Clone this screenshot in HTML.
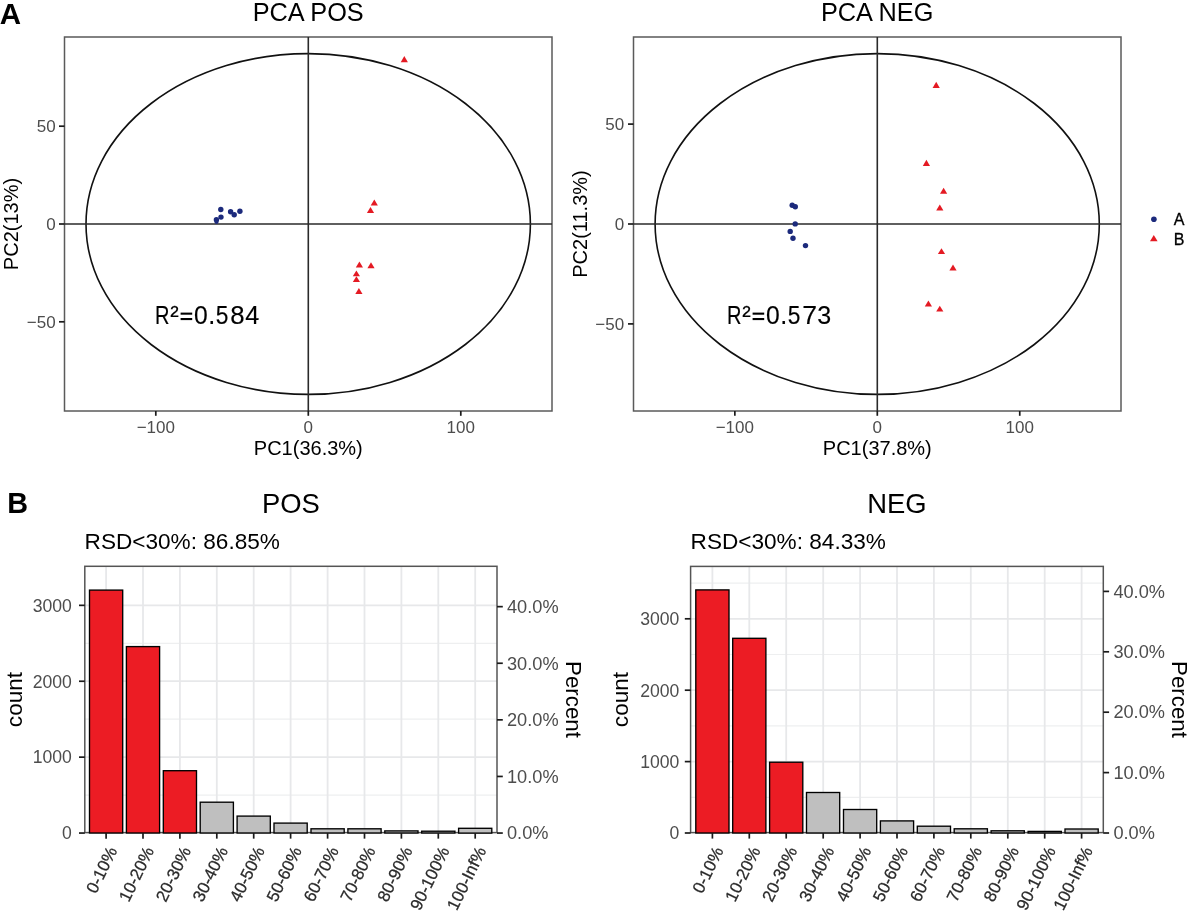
<!DOCTYPE html>
<html><head><meta charset="utf-8"><title>Figure</title>
<style>
html,body{margin:0;padding:0;background:#fff;}
body{width:1189px;height:915px;overflow:hidden;}
svg{display:block;filter:blur(0.3px);font-family:"Liberation Sans", sans-serif;}
</style></head>
<body>
<svg width="1189" height="915" viewBox="0 0 1189 915">
<rect x="0" y="0" width="1189" height="915" fill="#fff"/>
<text x="308.2" y="20.5" font-size="25.3" text-anchor="middle" fill="#000">PCA POS</text>
<rect x="64.5" y="37" width="487.5" height="374" fill="none" stroke="#5a5a5a" stroke-width="1.5"/>
<ellipse cx="308.2" cy="224" rx="222.2" ry="170.4" fill="none" stroke="#111" stroke-width="1.6"/>
<line x1="308.3" y1="37" x2="308.3" y2="411" stroke="#2a2a2a" stroke-width="1.6"/>
<line x1="64.5" y1="224" x2="552" y2="224" stroke="#2a2a2a" stroke-width="1.6"/>
<line x1="155.8" y1="411" x2="155.8" y2="415.8" stroke="#1a1a1a" stroke-width="1.7"/>
<text x="155.8" y="432.5" font-size="17" text-anchor="middle" fill="#4d4d4d">−100</text>
<line x1="308.3" y1="411" x2="308.3" y2="415.8" stroke="#1a1a1a" stroke-width="1.7"/>
<text x="308.3" y="432.5" font-size="17" text-anchor="middle" fill="#4d4d4d">0</text>
<line x1="460.8" y1="411" x2="460.8" y2="415.8" stroke="#1a1a1a" stroke-width="1.7"/>
<text x="460.8" y="432.5" font-size="17" text-anchor="middle" fill="#4d4d4d">100</text>
<line x1="59.0" y1="126.2" x2="64.5" y2="126.2" stroke="#1a1a1a" stroke-width="1.7"/>
<text x="55.6" y="132.3" font-size="17" text-anchor="end" fill="#4d4d4d">50</text>
<line x1="59.0" y1="224.0" x2="64.5" y2="224.0" stroke="#1a1a1a" stroke-width="1.7"/>
<text x="55.6" y="230.1" font-size="17" text-anchor="end" fill="#4d4d4d">0</text>
<line x1="59.0" y1="321.8" x2="64.5" y2="321.8" stroke="#1a1a1a" stroke-width="1.7"/>
<text x="55.6" y="327.9" font-size="17" text-anchor="end" fill="#4d4d4d">−50</text>
<text x="308.3" y="455" font-size="20" text-anchor="middle" fill="#000">PC1(36.3%)</text>
<text x="18.3" y="224" font-size="20" text-anchor="middle" fill="#000" transform="rotate(-90 18.3 224)">PC2(13%)</text>
<text x="0" y="0" font-size="25.6" fill="#000" stroke="#000" stroke-width="0.15" transform="translate(155.01 324.2) scale(0.783 1.0)">R</text>
<text x="0" y="0" font-size="25.6" fill="#000" stroke="#000" stroke-width="0.15" transform="translate(170.34 325.3) scale(0.997 1.05)">²</text>
<rect x="180.6" y="312.6" width="11.6" height="2.1" fill="#000"/>
<rect x="180.6" y="318.0" width="11.6" height="2.1" fill="#000"/>
<text x="0" y="0" font-size="25.6" fill="#000" stroke="#000" stroke-width="0.15" transform="translate(193.99 324.2) scale(0.964 1.0)">0</text>
<text x="0" y="0" font-size="25.6" fill="#000" stroke="#000" stroke-width="0.15" transform="translate(208.35 324.2) scale(0.985 1.1)">.</text>
<text x="0" y="0" font-size="25.6" fill="#000" stroke="#000" stroke-width="0.15" transform="translate(215.84 324.2) scale(0.890 1.0)">5</text>
<text x="0" y="0" font-size="25.6" fill="#000" stroke="#000" stroke-width="0.15" transform="translate(230.13 324.2) scale(1.007 1.0)">8</text>
<text x="0" y="0" font-size="25.6" fill="#000" stroke="#000" stroke-width="0.15" transform="translate(245.17 324.2) scale(0.984 1.0)">4</text>
<circle cx="220.8" cy="209.5" r="2.7" fill="#1c2a7c"/>
<circle cx="221.0" cy="217.1" r="2.7" fill="#1c2a7c"/>
<circle cx="216.4" cy="219.8" r="2.7" fill="#1c2a7c"/>
<circle cx="230.6" cy="211.8" r="2.7" fill="#1c2a7c"/>
<circle cx="234.2" cy="214.8" r="2.7" fill="#1c2a7c"/>
<circle cx="239.9" cy="211.2" r="2.7" fill="#1c2a7c"/>
<circle cx="216.5" cy="222.0" r="2.1" fill="#1c2a7c"/>
<polygon points="404.3,56.0 400.7,62.2 407.9,62.2" fill="#e41a23"/>
<polygon points="374.3,199.5 370.7,205.5 377.9,205.5" fill="#e41a23"/>
<polygon points="370.5,207.0 366.9,213.0 374.1,213.0" fill="#e41a23"/>
<polygon points="359.4,261.5 355.8,267.6 363.0,267.6" fill="#e41a23"/>
<polygon points="371.0,262.3 367.4,268.3 374.6,268.3" fill="#e41a23"/>
<polygon points="356.4,270.5 352.8,276.3 360.0,276.3" fill="#e41a23"/>
<polygon points="356.4,276.2 352.8,282.0 360.0,282.0" fill="#e41a23"/>
<polygon points="358.9,288.0 355.3,294.0 362.5,294.0" fill="#e41a23"/>
<text x="877.2" y="20.5" font-size="25.3" text-anchor="middle" fill="#000">PCA NEG</text>
<rect x="633.5" y="37" width="487.5" height="374" fill="none" stroke="#5a5a5a" stroke-width="1.5"/>
<ellipse cx="877.2" cy="224" rx="222.1" ry="170.4" fill="none" stroke="#111" stroke-width="1.6"/>
<line x1="877.3" y1="37" x2="877.3" y2="411" stroke="#2a2a2a" stroke-width="1.6"/>
<line x1="633.5" y1="224" x2="1121" y2="224" stroke="#2a2a2a" stroke-width="1.6"/>
<line x1="734.8499999999999" y1="411" x2="734.8499999999999" y2="415.8" stroke="#1a1a1a" stroke-width="1.7"/>
<text x="734.8" y="432.5" font-size="17" text-anchor="middle" fill="#4d4d4d">−100</text>
<line x1="877.3" y1="411" x2="877.3" y2="415.8" stroke="#1a1a1a" stroke-width="1.7"/>
<text x="877.3" y="432.5" font-size="17" text-anchor="middle" fill="#4d4d4d">0</text>
<line x1="1019.75" y1="411" x2="1019.75" y2="415.8" stroke="#1a1a1a" stroke-width="1.7"/>
<text x="1019.8" y="432.5" font-size="17" text-anchor="middle" fill="#4d4d4d">100</text>
<line x1="628.0" y1="124.1" x2="633.5" y2="124.1" stroke="#1a1a1a" stroke-width="1.7"/>
<text x="624.2" y="130.2" font-size="17" text-anchor="end" fill="#4d4d4d">50</text>
<line x1="628.0" y1="224.0" x2="633.5" y2="224.0" stroke="#1a1a1a" stroke-width="1.7"/>
<text x="624.2" y="230.1" font-size="17" text-anchor="end" fill="#4d4d4d">0</text>
<line x1="628.0" y1="323.9" x2="633.5" y2="323.9" stroke="#1a1a1a" stroke-width="1.7"/>
<text x="624.2" y="330.0" font-size="17" text-anchor="end" fill="#4d4d4d">−50</text>
<text x="877.3" y="455" font-size="20" text-anchor="middle" fill="#000">PC1(37.8%)</text>
<text x="587.1" y="224" font-size="20" text-anchor="middle" fill="#000" transform="rotate(-90 587.1 224)">PC2(11.3%)</text>
<text x="0" y="0" font-size="25.6" fill="#000" stroke="#000" stroke-width="0.15" transform="translate(727.01 324.2) scale(0.783 1.0)">R</text>
<text x="0" y="0" font-size="25.6" fill="#000" stroke="#000" stroke-width="0.15" transform="translate(742.34 325.3) scale(0.997 1.05)">²</text>
<rect x="752.6" y="312.6" width="11.6" height="2.1" fill="#000"/>
<rect x="752.6" y="318.0" width="11.6" height="2.1" fill="#000"/>
<text x="0" y="0" font-size="25.6" fill="#000" stroke="#000" stroke-width="0.15" transform="translate(765.99 324.2) scale(0.964 1.0)">0</text>
<text x="0" y="0" font-size="25.6" fill="#000" stroke="#000" stroke-width="0.15" transform="translate(780.35 324.2) scale(0.985 1.1)">.</text>
<text x="0" y="0" font-size="25.6" fill="#000" stroke="#000" stroke-width="0.15" transform="translate(787.84 324.2) scale(0.890 1.0)">5</text>
<text x="0" y="0" font-size="25.6" fill="#000" stroke="#000" stroke-width="0.15" transform="translate(802.19 324.2) scale(1.040 1.0)">7</text>
<text x="0" y="0" font-size="25.6" fill="#000" stroke="#000" stroke-width="0.15" transform="translate(817.29 324.2) scale(0.980 1.0)">3</text>
<circle cx="792.2" cy="205.2" r="2.7" fill="#1c2a7c"/>
<circle cx="795.3" cy="206.7" r="2.7" fill="#1c2a7c"/>
<circle cx="795.2" cy="223.9" r="2.7" fill="#1c2a7c"/>
<circle cx="790.2" cy="231.4" r="2.7" fill="#1c2a7c"/>
<circle cx="793.0" cy="238.3" r="2.7" fill="#1c2a7c"/>
<circle cx="805.5" cy="245.6" r="2.7" fill="#1c2a7c"/>
<polygon points="936.2,81.8 932.6,88.0 939.8,88.0" fill="#e41a23"/>
<polygon points="926.4,159.8 922.8,166.0 930.0,166.0" fill="#e41a23"/>
<polygon points="943.6,187.7 940.0,193.8 947.2,193.8" fill="#e41a23"/>
<polygon points="939.8,204.4 936.2,210.6 943.4,210.6" fill="#e41a23"/>
<polygon points="941.5,248.2 937.9,254.0 945.1,254.0" fill="#e41a23"/>
<polygon points="953.0,264.6 949.4,270.4 956.6,270.4" fill="#e41a23"/>
<polygon points="928.4,300.6 924.8,306.5 932.0,306.5" fill="#e41a23"/>
<polygon points="939.8,305.7 936.2,311.5 943.4,311.5" fill="#e41a23"/>
<circle cx="1153.9" cy="219.2" r="2.8" fill="#1c2a7c"/>
<polygon points="1153.8,235.0 1150.0,241.3 1157.6,241.3" fill="#e41a23"/>
<text x="1173.8" y="225.2" font-size="16" text-anchor="start" fill="#000" stroke="#000" stroke-width="0.3">A</text>
<text x="1173.8" y="244.8" font-size="16" text-anchor="start" fill="#000" stroke="#000" stroke-width="0.3">B</text>
<text x="-0.3" y="24.0" font-size="29.5" text-anchor="start" fill="#000" font-weight="bold">A</text>
<text x="7.3" y="513.4" font-size="28.8" text-anchor="start" fill="#000" font-weight="bold">B</text>
<text x="290.9" y="513.2" font-size="27.4" text-anchor="middle" fill="#000">POS</text>
<text x="84.6" y="549.0" font-size="22.6" text-anchor="start" fill="#000">RSD&lt;30%: 86.85%</text>
<line x1="84.8" y1="795.1" x2="497.0" y2="795.1" stroke="#eeeff0" stroke-width="1.2"/>
<line x1="84.8" y1="757.1" x2="497.0" y2="757.1" stroke="#e7e8ea" stroke-width="1.8"/>
<line x1="84.8" y1="719.2" x2="497.0" y2="719.2" stroke="#eeeff0" stroke-width="1.2"/>
<line x1="84.8" y1="681.2" x2="497.0" y2="681.2" stroke="#e7e8ea" stroke-width="1.8"/>
<line x1="84.8" y1="643.3" x2="497.0" y2="643.3" stroke="#eeeff0" stroke-width="1.2"/>
<line x1="84.8" y1="605.3" x2="497.0" y2="605.3" stroke="#e7e8ea" stroke-width="1.8"/>
<line x1="106.1" y1="566.3" x2="106.1" y2="832.6" stroke="#e7e8ea" stroke-width="1.8"/>
<line x1="143.0" y1="566.3" x2="143.0" y2="832.6" stroke="#e7e8ea" stroke-width="1.8"/>
<line x1="179.9" y1="566.3" x2="179.9" y2="832.6" stroke="#e7e8ea" stroke-width="1.8"/>
<line x1="216.8" y1="566.3" x2="216.8" y2="832.6" stroke="#e7e8ea" stroke-width="1.8"/>
<line x1="253.7" y1="566.3" x2="253.7" y2="832.6" stroke="#e7e8ea" stroke-width="1.8"/>
<line x1="290.6" y1="566.3" x2="290.6" y2="832.6" stroke="#e7e8ea" stroke-width="1.8"/>
<line x1="327.6" y1="566.3" x2="327.6" y2="832.6" stroke="#e7e8ea" stroke-width="1.8"/>
<line x1="364.5" y1="566.3" x2="364.5" y2="832.6" stroke="#e7e8ea" stroke-width="1.8"/>
<line x1="401.4" y1="566.3" x2="401.4" y2="832.6" stroke="#e7e8ea" stroke-width="1.8"/>
<line x1="438.3" y1="566.3" x2="438.3" y2="832.6" stroke="#e7e8ea" stroke-width="1.8"/>
<line x1="475.2" y1="566.3" x2="475.2" y2="832.6" stroke="#e7e8ea" stroke-width="1.8"/>
<rect x="84.8" y="566.3" width="412.2" height="266.30000000000007" fill="none" stroke="#555" stroke-width="1.5"/>
<rect x="89.5" y="590.1" width="33.2" height="242.9" fill="#ec1c24" stroke="#000" stroke-width="1.35"/>
<rect x="126.4" y="646.6" width="33.2" height="186.4" fill="#ec1c24" stroke="#000" stroke-width="1.35"/>
<rect x="163.3" y="770.7" width="33.2" height="62.3" fill="#ec1c24" stroke="#000" stroke-width="1.35"/>
<rect x="200.2" y="802.2" width="33.2" height="30.8" fill="#bfbfbf" stroke="#000" stroke-width="1.35"/>
<rect x="237.1" y="816.1" width="33.2" height="16.9" fill="#bfbfbf" stroke="#000" stroke-width="1.35"/>
<rect x="274.0" y="823.1" width="33.2" height="9.9" fill="#bfbfbf" stroke="#000" stroke-width="1.35"/>
<rect x="311.0" y="828.8" width="33.2" height="4.2" fill="#bfbfbf" stroke="#000" stroke-width="1.35"/>
<rect x="347.9" y="828.8" width="33.2" height="4.2" fill="#bfbfbf" stroke="#000" stroke-width="1.35"/>
<rect x="384.8" y="830.9" width="33.2" height="2.1" fill="#bfbfbf" stroke="#000" stroke-width="1.35"/>
<rect x="421.7" y="831.2" width="33.2" height="1.8" fill="#bfbfbf" stroke="#000" stroke-width="1.35"/>
<rect x="458.6" y="828.3" width="33.2" height="4.8" fill="#bfbfbf" stroke="#000" stroke-width="1.35"/>
<line x1="79.0" y1="833.05" x2="84.8" y2="833.05" stroke="#1a1a1a" stroke-width="1.7"/>
<text x="71.8" y="839.3" font-size="17.6" text-anchor="end" fill="#4d4d4d">0</text>
<line x1="79.0" y1="757.15" x2="84.8" y2="757.15" stroke="#1a1a1a" stroke-width="1.7"/>
<text x="71.8" y="763.4" font-size="17.6" text-anchor="end" fill="#4d4d4d">1000</text>
<line x1="79.0" y1="681.25" x2="84.8" y2="681.25" stroke="#1a1a1a" stroke-width="1.7"/>
<text x="71.8" y="687.5" font-size="17.6" text-anchor="end" fill="#4d4d4d">2000</text>
<line x1="79.0" y1="605.3499999999999" x2="84.8" y2="605.3499999999999" stroke="#1a1a1a" stroke-width="1.7"/>
<text x="71.8" y="611.6" font-size="17.6" text-anchor="end" fill="#4d4d4d">3000</text>
<line x1="497.0" y1="833.05" x2="502.8" y2="833.05" stroke="#1a1a1a" stroke-width="1.7"/>
<text x="507.0" y="839.2" font-size="18.2" text-anchor="start" fill="#4d4d4d">0.0%</text>
<line x1="497.0" y1="776.4499999999999" x2="502.8" y2="776.4499999999999" stroke="#1a1a1a" stroke-width="1.7"/>
<text x="507.0" y="782.6" font-size="18.2" text-anchor="start" fill="#4d4d4d">10.0%</text>
<line x1="497.0" y1="719.8499999999999" x2="502.8" y2="719.8499999999999" stroke="#1a1a1a" stroke-width="1.7"/>
<text x="507.0" y="726.0" font-size="18.2" text-anchor="start" fill="#4d4d4d">20.0%</text>
<line x1="497.0" y1="663.25" x2="502.8" y2="663.25" stroke="#1a1a1a" stroke-width="1.7"/>
<text x="507.0" y="669.5" font-size="18.2" text-anchor="start" fill="#4d4d4d">30.0%</text>
<line x1="497.0" y1="606.65" x2="502.8" y2="606.65" stroke="#1a1a1a" stroke-width="1.7"/>
<text x="507.0" y="612.9" font-size="18.2" text-anchor="start" fill="#4d4d4d">40.0%</text>
<line x1="106.1" y1="833.05" x2="106.1" y2="838.65" stroke="#1a1a1a" stroke-width="1.7"/>
<text x="117.6" y="850.3" font-size="17" text-anchor="end" fill="#2a2a2a" transform="rotate(-64 117.6 850.3)" stroke="#2a2a2a" stroke-width="0.25">0-10%</text>
<line x1="143.0" y1="833.05" x2="143.0" y2="838.65" stroke="#1a1a1a" stroke-width="1.7"/>
<text x="154.5" y="850.3" font-size="17" text-anchor="end" fill="#2a2a2a" transform="rotate(-64 154.5 850.3)" stroke="#2a2a2a" stroke-width="0.25">10-20%</text>
<line x1="179.9" y1="833.05" x2="179.9" y2="838.65" stroke="#1a1a1a" stroke-width="1.7"/>
<text x="191.4" y="850.3" font-size="17" text-anchor="end" fill="#2a2a2a" transform="rotate(-64 191.4 850.3)" stroke="#2a2a2a" stroke-width="0.25">20-30%</text>
<line x1="216.8" y1="833.05" x2="216.8" y2="838.65" stroke="#1a1a1a" stroke-width="1.7"/>
<text x="228.3" y="850.3" font-size="17" text-anchor="end" fill="#2a2a2a" transform="rotate(-64 228.3 850.3)" stroke="#2a2a2a" stroke-width="0.25">30-40%</text>
<line x1="253.7" y1="833.05" x2="253.7" y2="838.65" stroke="#1a1a1a" stroke-width="1.7"/>
<text x="265.2" y="850.3" font-size="17" text-anchor="end" fill="#2a2a2a" transform="rotate(-64 265.2 850.3)" stroke="#2a2a2a" stroke-width="0.25">40-50%</text>
<line x1="290.6" y1="833.05" x2="290.6" y2="838.65" stroke="#1a1a1a" stroke-width="1.7"/>
<text x="302.1" y="850.3" font-size="17" text-anchor="end" fill="#2a2a2a" transform="rotate(-64 302.1 850.3)" stroke="#2a2a2a" stroke-width="0.25">50-60%</text>
<line x1="327.6" y1="833.05" x2="327.6" y2="838.65" stroke="#1a1a1a" stroke-width="1.7"/>
<text x="339.1" y="850.3" font-size="17" text-anchor="end" fill="#2a2a2a" transform="rotate(-64 339.1 850.3)" stroke="#2a2a2a" stroke-width="0.25">60-70%</text>
<line x1="364.5" y1="833.05" x2="364.5" y2="838.65" stroke="#1a1a1a" stroke-width="1.7"/>
<text x="376.0" y="850.3" font-size="17" text-anchor="end" fill="#2a2a2a" transform="rotate(-64 376.0 850.3)" stroke="#2a2a2a" stroke-width="0.25">70-80%</text>
<line x1="401.4" y1="833.05" x2="401.4" y2="838.65" stroke="#1a1a1a" stroke-width="1.7"/>
<text x="412.9" y="850.3" font-size="17" text-anchor="end" fill="#2a2a2a" transform="rotate(-64 412.9 850.3)" stroke="#2a2a2a" stroke-width="0.25">80-90%</text>
<line x1="438.3" y1="833.05" x2="438.3" y2="838.65" stroke="#1a1a1a" stroke-width="1.7"/>
<text x="449.8" y="850.3" font-size="17" text-anchor="end" fill="#2a2a2a" transform="rotate(-64 449.8 850.3)" stroke="#2a2a2a" stroke-width="0.25">90-100%</text>
<line x1="475.2" y1="833.05" x2="475.2" y2="838.65" stroke="#1a1a1a" stroke-width="1.7"/>
<text x="486.7" y="850.3" font-size="17" text-anchor="end" fill="#2a2a2a" transform="rotate(-64 486.7 850.3)" stroke="#2a2a2a" stroke-width="0.25">100-Inf%</text>
<text x="22.4" y="699.5" font-size="22.6" text-anchor="middle" fill="#000" transform="rotate(-90 22.4 699.5)">count</text>
<text x="565.9" y="699.5" font-size="22.3" text-anchor="middle" fill="#000" transform="rotate(90 565.9 699.5)">Percent</text>
<text x="897.0" y="513.2" font-size="27.4" text-anchor="middle" fill="#000">NEG</text>
<text x="690.6" y="549.0" font-size="22.6" text-anchor="start" fill="#000">RSD&lt;30%: 84.33%</text>
<line x1="690.6" y1="797.3" x2="1103.3" y2="797.3" stroke="#eeeff0" stroke-width="1.2"/>
<line x1="690.6" y1="761.6" x2="1103.3" y2="761.6" stroke="#e7e8ea" stroke-width="1.8"/>
<line x1="690.6" y1="725.9" x2="1103.3" y2="725.9" stroke="#eeeff0" stroke-width="1.2"/>
<line x1="690.6" y1="690.2" x2="1103.3" y2="690.2" stroke="#e7e8ea" stroke-width="1.8"/>
<line x1="690.6" y1="654.5" x2="1103.3" y2="654.5" stroke="#eeeff0" stroke-width="1.2"/>
<line x1="690.6" y1="618.8" x2="1103.3" y2="618.8" stroke="#e7e8ea" stroke-width="1.8"/>
<line x1="690.6" y1="583.1" x2="1103.3" y2="583.1" stroke="#eeeff0" stroke-width="1.2"/>
<line x1="712.4" y1="566.4" x2="712.4" y2="832.6" stroke="#e7e8ea" stroke-width="1.8"/>
<line x1="749.3" y1="566.4" x2="749.3" y2="832.6" stroke="#e7e8ea" stroke-width="1.8"/>
<line x1="786.2" y1="566.4" x2="786.2" y2="832.6" stroke="#e7e8ea" stroke-width="1.8"/>
<line x1="823.2" y1="566.4" x2="823.2" y2="832.6" stroke="#e7e8ea" stroke-width="1.8"/>
<line x1="860.1" y1="566.4" x2="860.1" y2="832.6" stroke="#e7e8ea" stroke-width="1.8"/>
<line x1="897.0" y1="566.4" x2="897.0" y2="832.6" stroke="#e7e8ea" stroke-width="1.8"/>
<line x1="933.9" y1="566.4" x2="933.9" y2="832.6" stroke="#e7e8ea" stroke-width="1.8"/>
<line x1="970.8" y1="566.4" x2="970.8" y2="832.6" stroke="#e7e8ea" stroke-width="1.8"/>
<line x1="1007.8" y1="566.4" x2="1007.8" y2="832.6" stroke="#e7e8ea" stroke-width="1.8"/>
<line x1="1044.7" y1="566.4" x2="1044.7" y2="832.6" stroke="#e7e8ea" stroke-width="1.8"/>
<line x1="1081.6" y1="566.4" x2="1081.6" y2="832.6" stroke="#e7e8ea" stroke-width="1.8"/>
<rect x="690.6" y="566.4" width="412.69999999999993" height="266.20000000000005" fill="none" stroke="#555" stroke-width="1.5"/>
<rect x="695.8" y="589.9" width="33.2" height="243.1" fill="#ec1c24" stroke="#000" stroke-width="1.35"/>
<rect x="732.7" y="638.3" width="33.2" height="194.7" fill="#ec1c24" stroke="#000" stroke-width="1.35"/>
<rect x="769.6" y="762.2" width="33.2" height="70.8" fill="#ec1c24" stroke="#000" stroke-width="1.35"/>
<rect x="806.5" y="792.5" width="33.2" height="40.5" fill="#bfbfbf" stroke="#000" stroke-width="1.35"/>
<rect x="843.5" y="809.5" width="33.2" height="23.5" fill="#bfbfbf" stroke="#000" stroke-width="1.35"/>
<rect x="880.4" y="820.9" width="33.2" height="12.1" fill="#bfbfbf" stroke="#000" stroke-width="1.35"/>
<rect x="917.3" y="826.2" width="33.2" height="6.8" fill="#bfbfbf" stroke="#000" stroke-width="1.35"/>
<rect x="954.2" y="828.8" width="33.2" height="4.2" fill="#bfbfbf" stroke="#000" stroke-width="1.35"/>
<rect x="991.1" y="830.8" width="33.2" height="2.2" fill="#bfbfbf" stroke="#000" stroke-width="1.35"/>
<rect x="1028.1" y="831.4" width="33.2" height="1.6" fill="#bfbfbf" stroke="#000" stroke-width="1.35"/>
<rect x="1065.0" y="829.0" width="33.2" height="4.0" fill="#bfbfbf" stroke="#000" stroke-width="1.35"/>
<line x1="684.8000000000001" y1="833.0" x2="690.6" y2="833.0" stroke="#1a1a1a" stroke-width="1.7"/>
<text x="679.4" y="839.3" font-size="17.6" text-anchor="end" fill="#4d4d4d">0</text>
<line x1="684.8000000000001" y1="761.6" x2="690.6" y2="761.6" stroke="#1a1a1a" stroke-width="1.7"/>
<text x="679.4" y="767.9" font-size="17.6" text-anchor="end" fill="#4d4d4d">1000</text>
<line x1="684.8000000000001" y1="690.2" x2="690.6" y2="690.2" stroke="#1a1a1a" stroke-width="1.7"/>
<text x="679.4" y="696.5" font-size="17.6" text-anchor="end" fill="#4d4d4d">2000</text>
<line x1="684.8000000000001" y1="618.8" x2="690.6" y2="618.8" stroke="#1a1a1a" stroke-width="1.7"/>
<text x="679.4" y="625.1" font-size="17.6" text-anchor="end" fill="#4d4d4d">3000</text>
<line x1="1103.3" y1="833.0" x2="1109.1" y2="833.0" stroke="#1a1a1a" stroke-width="1.7"/>
<text x="1113.4" y="839.2" font-size="18.2" text-anchor="start" fill="#4d4d4d">0.0%</text>
<line x1="1103.3" y1="772.6" x2="1109.1" y2="772.6" stroke="#1a1a1a" stroke-width="1.7"/>
<text x="1113.4" y="778.8" font-size="18.2" text-anchor="start" fill="#4d4d4d">10.0%</text>
<line x1="1103.3" y1="712.2" x2="1109.1" y2="712.2" stroke="#1a1a1a" stroke-width="1.7"/>
<text x="1113.4" y="718.4" font-size="18.2" text-anchor="start" fill="#4d4d4d">20.0%</text>
<line x1="1103.3" y1="651.8" x2="1109.1" y2="651.8" stroke="#1a1a1a" stroke-width="1.7"/>
<text x="1113.4" y="658.0" font-size="18.2" text-anchor="start" fill="#4d4d4d">30.0%</text>
<line x1="1103.3" y1="591.4" x2="1109.1" y2="591.4" stroke="#1a1a1a" stroke-width="1.7"/>
<text x="1113.4" y="597.6" font-size="18.2" text-anchor="start" fill="#4d4d4d">40.0%</text>
<line x1="712.4" y1="833.0" x2="712.4" y2="838.6" stroke="#1a1a1a" stroke-width="1.7"/>
<text x="723.9" y="850.3" font-size="17" text-anchor="end" fill="#2a2a2a" transform="rotate(-64 723.9 850.3)" stroke="#2a2a2a" stroke-width="0.25">0-10%</text>
<line x1="749.3" y1="833.0" x2="749.3" y2="838.6" stroke="#1a1a1a" stroke-width="1.7"/>
<text x="760.8" y="850.3" font-size="17" text-anchor="end" fill="#2a2a2a" transform="rotate(-64 760.8 850.3)" stroke="#2a2a2a" stroke-width="0.25">10-20%</text>
<line x1="786.2" y1="833.0" x2="786.2" y2="838.6" stroke="#1a1a1a" stroke-width="1.7"/>
<text x="797.7" y="850.3" font-size="17" text-anchor="end" fill="#2a2a2a" transform="rotate(-64 797.7 850.3)" stroke="#2a2a2a" stroke-width="0.25">20-30%</text>
<line x1="823.2" y1="833.0" x2="823.2" y2="838.6" stroke="#1a1a1a" stroke-width="1.7"/>
<text x="834.7" y="850.3" font-size="17" text-anchor="end" fill="#2a2a2a" transform="rotate(-64 834.7 850.3)" stroke="#2a2a2a" stroke-width="0.25">30-40%</text>
<line x1="860.1" y1="833.0" x2="860.1" y2="838.6" stroke="#1a1a1a" stroke-width="1.7"/>
<text x="871.6" y="850.3" font-size="17" text-anchor="end" fill="#2a2a2a" transform="rotate(-64 871.6 850.3)" stroke="#2a2a2a" stroke-width="0.25">40-50%</text>
<line x1="897.0" y1="833.0" x2="897.0" y2="838.6" stroke="#1a1a1a" stroke-width="1.7"/>
<text x="908.5" y="850.3" font-size="17" text-anchor="end" fill="#2a2a2a" transform="rotate(-64 908.5 850.3)" stroke="#2a2a2a" stroke-width="0.25">50-60%</text>
<line x1="933.9" y1="833.0" x2="933.9" y2="838.6" stroke="#1a1a1a" stroke-width="1.7"/>
<text x="945.4" y="850.3" font-size="17" text-anchor="end" fill="#2a2a2a" transform="rotate(-64 945.4 850.3)" stroke="#2a2a2a" stroke-width="0.25">60-70%</text>
<line x1="970.8" y1="833.0" x2="970.8" y2="838.6" stroke="#1a1a1a" stroke-width="1.7"/>
<text x="982.3" y="850.3" font-size="17" text-anchor="end" fill="#2a2a2a" transform="rotate(-64 982.3 850.3)" stroke="#2a2a2a" stroke-width="0.25">70-80%</text>
<line x1="1007.8" y1="833.0" x2="1007.8" y2="838.6" stroke="#1a1a1a" stroke-width="1.7"/>
<text x="1019.3" y="850.3" font-size="17" text-anchor="end" fill="#2a2a2a" transform="rotate(-64 1019.3 850.3)" stroke="#2a2a2a" stroke-width="0.25">80-90%</text>
<line x1="1044.7" y1="833.0" x2="1044.7" y2="838.6" stroke="#1a1a1a" stroke-width="1.7"/>
<text x="1056.2" y="850.3" font-size="17" text-anchor="end" fill="#2a2a2a" transform="rotate(-64 1056.2 850.3)" stroke="#2a2a2a" stroke-width="0.25">90-100%</text>
<line x1="1081.6" y1="833.0" x2="1081.6" y2="838.6" stroke="#1a1a1a" stroke-width="1.7"/>
<text x="1093.1" y="850.3" font-size="17" text-anchor="end" fill="#2a2a2a" transform="rotate(-64 1093.1 850.3)" stroke="#2a2a2a" stroke-width="0.25">100-Inf%</text>
<text x="628.0" y="699.5" font-size="22.6" text-anchor="middle" fill="#000" transform="rotate(-90 628.0 699.5)">count</text>
<text x="1171.5" y="699.5" font-size="22.3" text-anchor="middle" fill="#000" transform="rotate(90 1171.5 699.5)">Percent</text>
</svg>
</body></html>
